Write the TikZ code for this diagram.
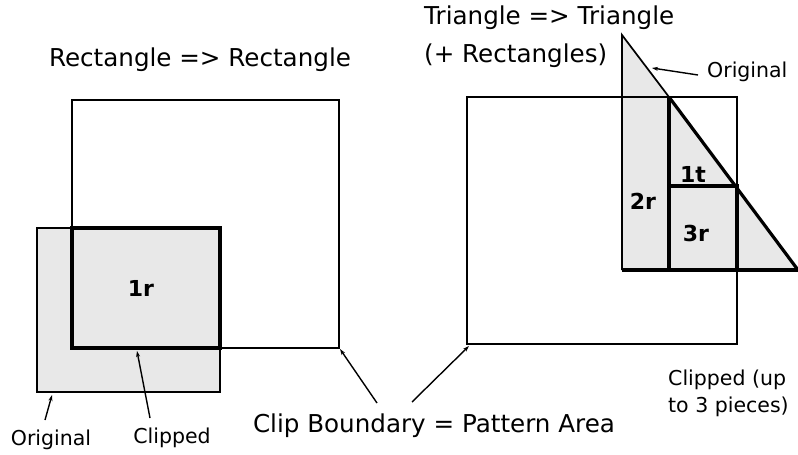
\documentclass[tikz,border=0pt]{standalone}
\usepackage{fontspec}
\setmainfont{DejaVu Sans}
\usetikzlibrary{arrows.meta}
\begin{document}
\begin{tikzpicture}[x=1pt,y=-1pt,
 thinln/.style={line width=1.7pt},
 thickln/.style={line width=3.2pt},
 shadefill/.style={fill=black!9},
 big/.style={font=\fontsize{24.6}{28}\selectfont, inner sep=0pt},
 small/.style={font=\fontsize{20.5}{27}\selectfont, inner sep=0pt, align=left},
 lbl/.style={font=\fontsize{22}{26}\selectfont\bfseries, inner sep=0pt},
 arr/.style={line width=1.4pt, -{Stealth[length=6pt,width=4pt]}}]
\useasboundingbox (0,0) rectangle (798,455);

% ---- left: rectangle => rectangle
\fill[shadefill] (37,228) rectangle (220,392);
\draw[thinln] (72,100) rectangle (339,348);
\draw[thinln] (37,228) rectangle (220,392);
\draw[thickln] (72,228) rectangle (220,348);
\node[lbl] (r1) at (141,288) {1r};
\node[big] (t1) at (200,60) {Rectangle => Rectangle};

% ---- right: triangle => triangle
\fill[shadefill] (622,35) -- (798,270) -- (622,270) -- cycle;
\draw[thinln] (467,344) -- (467,97) -- (737,97) -- (737,344) -- cycle;
\draw[thinln] (622,270) -- (622,35) -- (669,97);
\draw[thickln] (669,97) -- (669,270);
\draw[thickln] (669,186) -- (737,186) -- (737,270);
\draw[thickln] (669,97) -- (798,270);
\draw[thickln] (622,270) -- (798,270);
\node[lbl] (r2) at (643,201) {2r};
\node[lbl] (t1t) at (693,174) {1t};
\node[lbl] (r3) at (696,233) {3r};
\node[big, anchor=west] (t2) at (424,18) {Triangle => Triangle};
\node[big, anchor=west] (t3) at (424,56) {(+ Rectangles)};

% ---- labels and connectors
\node[small] (orL) at (51,440) {Original};
\node[small] (clL) at (172,438) {Clipped};
\node[big] (cb) at (434,426) {Clip Boundary = Pattern Area};
\node[small, anchor=west] (orR) at (707,72) {Original};
\node[small, anchor=west] (clR) at (668,393) {Clipped (up\\to 3 pieces)};

\coordinate (pOrL) at (52,395);
\coordinate (pClL) at (137,351);
\coordinate (pCb1) at (340,349);
\coordinate (pCb2) at (469,346);
\coordinate (pOrR) at (652,68);

\draw[arr] (45,420) -- (pOrL);
\draw[arr] (150,418) -- (pClL);
\draw[arr] (377,403) -- (pCb1);
\draw[arr] (412,402) -- (pCb2);
\draw[arr] (698,75) -- (pOrR);
\end{tikzpicture}
\end{document}
